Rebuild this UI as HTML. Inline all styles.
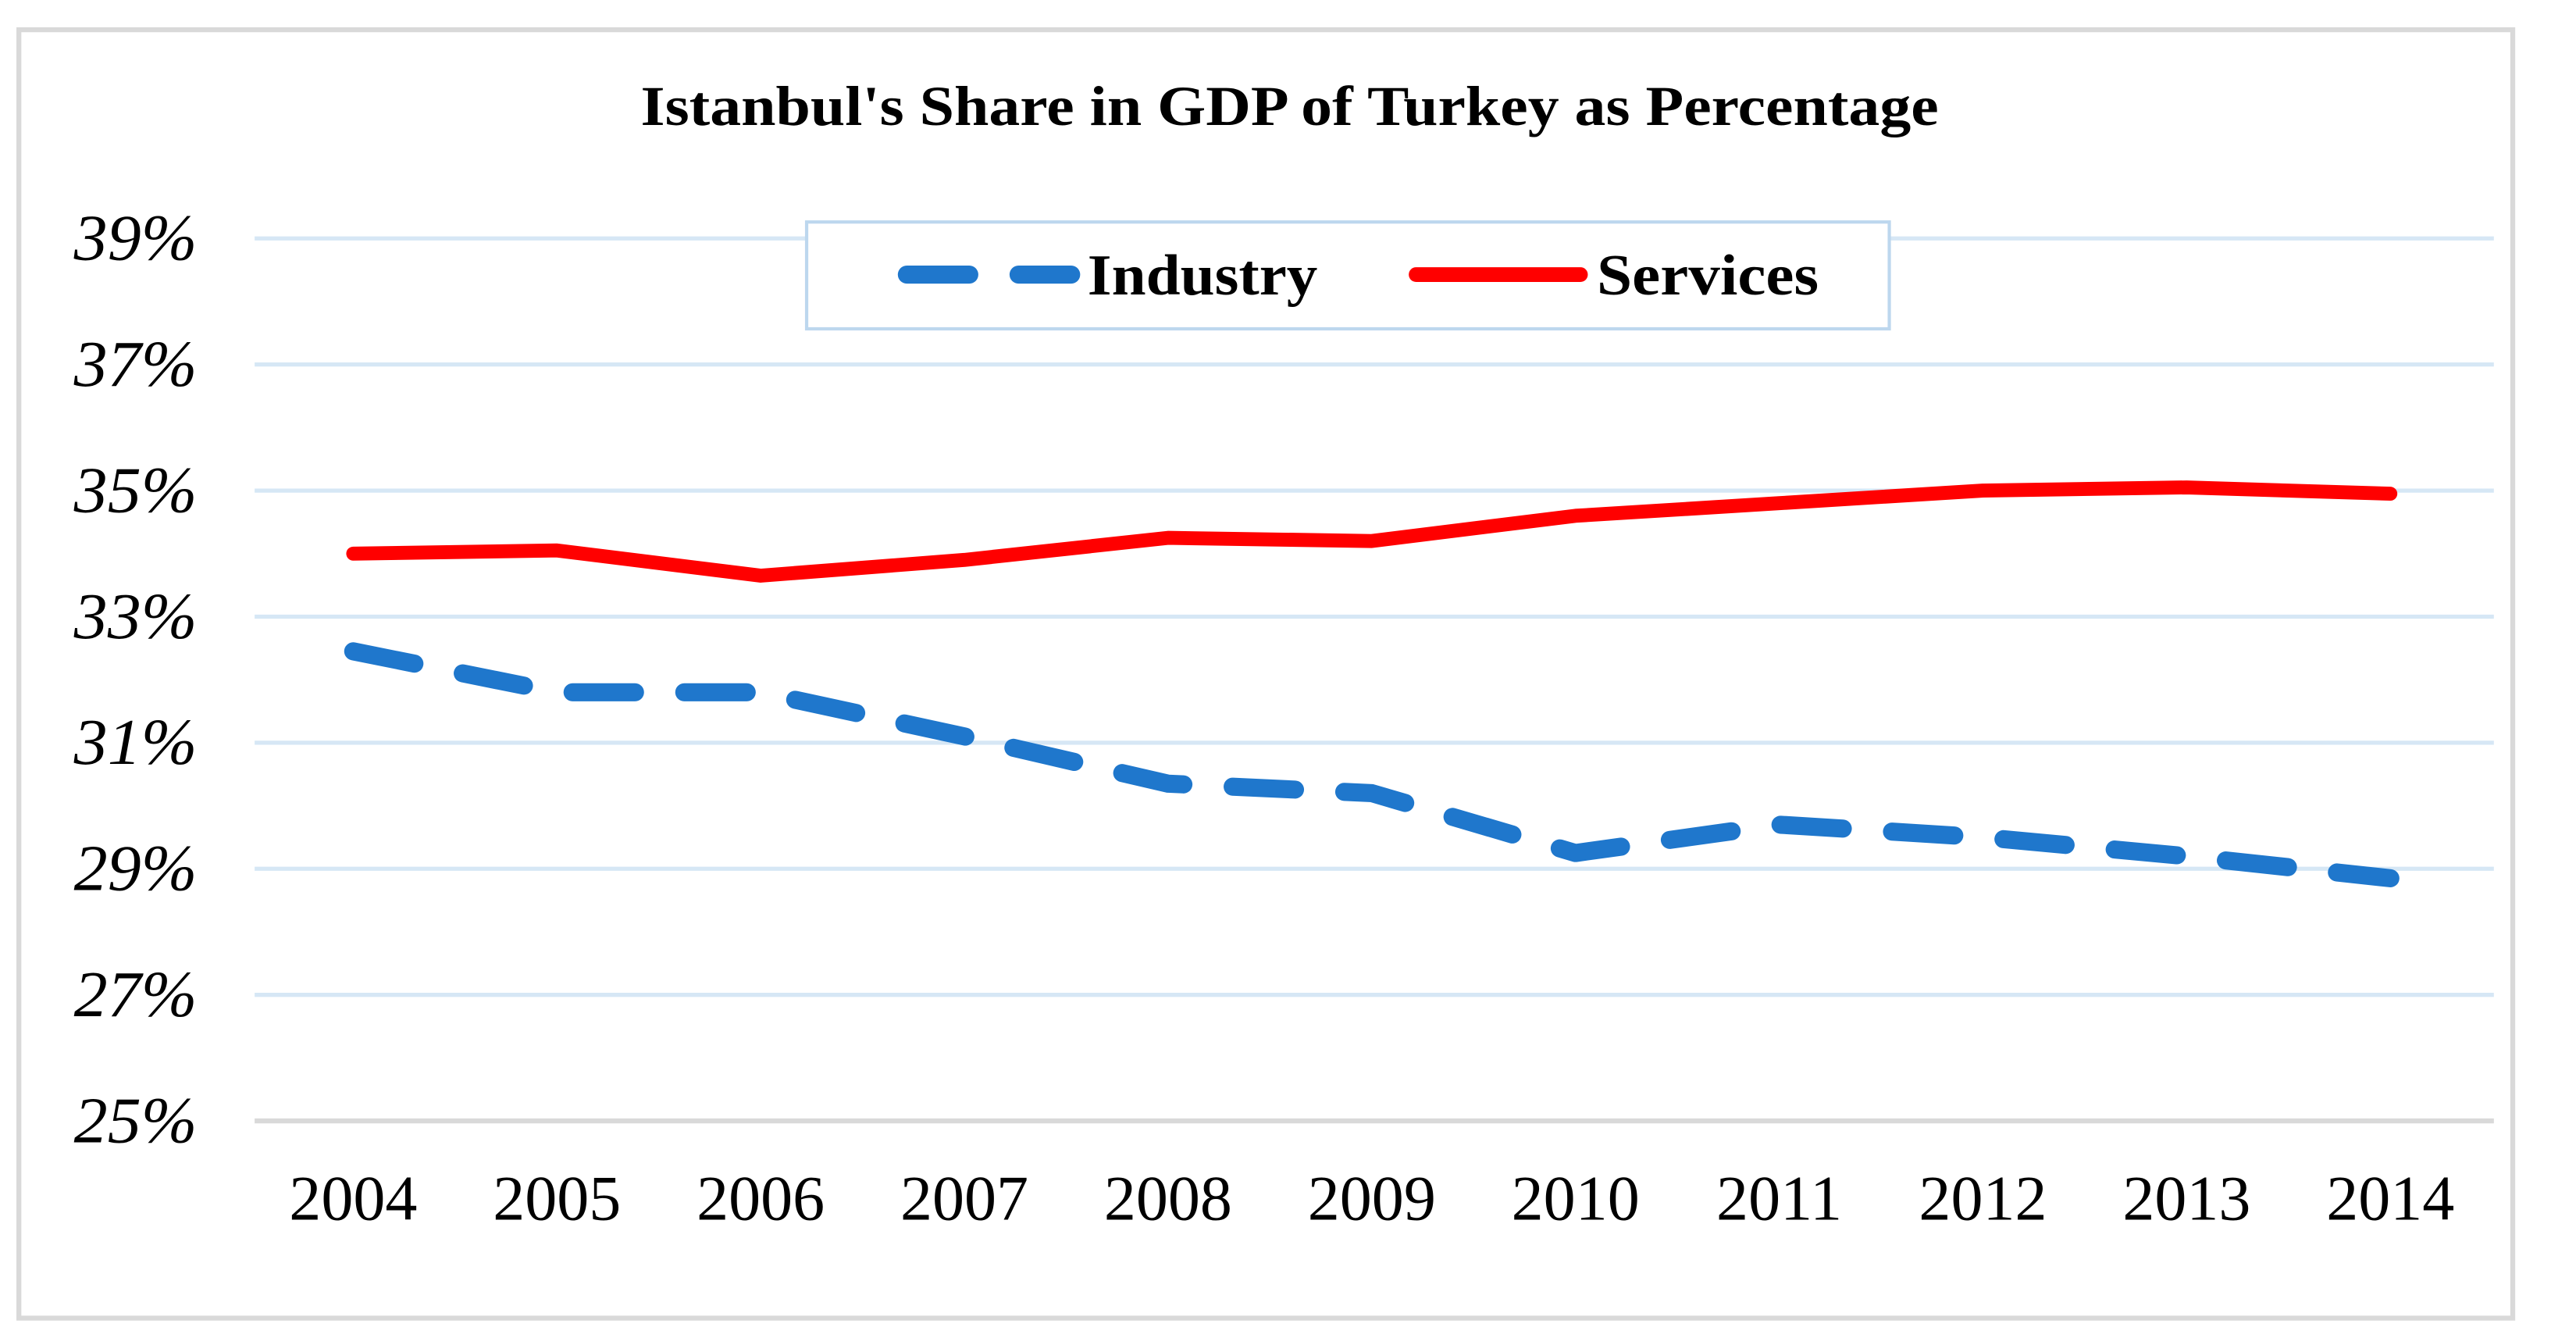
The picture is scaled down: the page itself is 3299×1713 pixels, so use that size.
<!DOCTYPE html>
<html><head><meta charset="utf-8"><style>
html,body{margin:0;padding:0;background:#fff;}
svg{display:block;}
</style></head><body>
<svg id="chart" width="3299" height="1713" viewBox="0 0 1568 814" xmlns="http://www.w3.org/2000/svg">
<rect x="11.5" y="18" width="1518" height="784" fill="#fff" stroke="#d9d9d9" stroke-width="3"/>
<text x="390" y="76" textLength="790" lengthAdjust="spacingAndGlyphs" font-family="Liberation Serif, serif" font-weight="bold" font-size="34">Istanbul's Share in GDP of Turkey as Percentage</text>
<g id="grid"></g>
<g id="yticks"></g>
<g id="xticks"></g>
<g id="series"></g>
<g>
<rect x="491" y="135" width="659" height="65" fill="#fff" stroke="#bdd7ee" stroke-width="2"/>
<line x1="552" y1="167" x2="652" y2="167" stroke="#1f77cc" stroke-width="11" stroke-dasharray="38,30" stroke-linecap="round"/>
<text x="662" y="179" textLength="140" lengthAdjust="spacingAndGlyphs" font-family="Liberation Serif, serif" font-weight="bold" font-size="35">Industry</text>
<line x1="862" y1="167" x2="962" y2="167" stroke="#ff0000" stroke-width="9" stroke-linecap="round"/>
<text x="972" y="179" textLength="135" lengthAdjust="spacingAndGlyphs" font-family="Liberation Serif, serif" font-weight="bold" font-size="35">Services</text>
</g>
</svg>
<script>
const years = ['2004','2005','2006','2007','2008','2009','2010','2011','2012','2013','2014'];
const industry = [32.45,31.8,31.8,31.1,30.35,30.2,29.25,29.7,29.5,29.2,28.85];
const services = [34.0,34.05,33.65,33.9,34.25,34.2,34.6,34.8,35.0,35.05,34.95];
const yTicks = [25,27,29,31,33,35,37,39];

const NS='http://www.w3.org/2000/svg';
const yMin=25,yMax=39,yBot=682,yTop=145;
function y(v){return yBot-(v-yMin)/(yMax-yMin)*(yBot-yTop);}
function x(i){return 215+i*(1455-215)/(years.length-1);}
function mk(tag,attrs,parent){const e=document.createElementNS(NS,tag);for(const k in attrs)e.setAttribute(k,attrs[k]);parent.appendChild(e);return e;}
const grid=document.getElementById('grid'),yt=document.getElementById('yticks'),xt=document.getElementById('xticks'),ser=document.getElementById('series');
yTicks.forEach(t=>{
  const l=mk('line',{x1:155,x2:1518,y1:y(t),y2:y(t),stroke:t===25?'#d9d9d9':'#d6e7f5','stroke-width':t===25?3:2.5},grid);
  
  
  const tx=mk('text',{x:45,y:y(t)+13,textLength:75,lengthAdjust:'spacingAndGlyphs','font-family':'Liberation Serif, serif','font-style':'italic','font-size':40},yt);
  tx.textContent=t+'%';
  
  
});
years.forEach((yr,i)=>{
  const tx=mk('text',{x:x(i),y:742,'text-anchor':'middle','font-family':'Liberation Serif, serif','font-size':39},xt);
  tx.textContent=yr;
  
  
});
function pts(arr){return arr.map((v,i)=>x(i)+','+y(v)).join(' ');}
const s=mk('polyline',{points:pts(services),fill:'none',stroke:'#ff0000','stroke-width':8.5,'stroke-linejoin':'round','stroke-linecap':'round'},ser);


const ind=mk('polyline',{points:pts(industry),fill:'none',stroke:'#1f77cc','stroke-width':11,'stroke-dasharray':'38,30','stroke-linejoin':'round','stroke-linecap':'round'},ser);


</script>
</body></html>
